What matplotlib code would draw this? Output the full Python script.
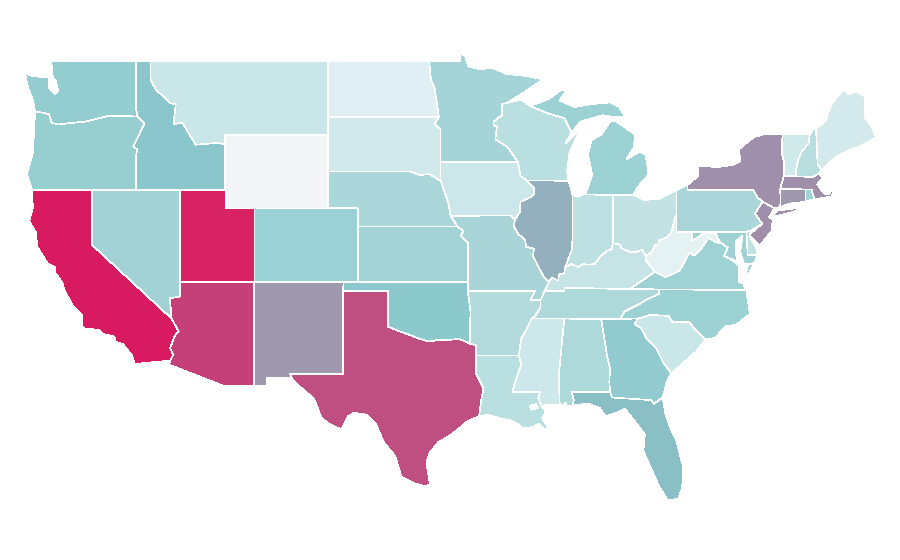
import matplotlib
matplotlib.use("Agg")
import matplotlib.pyplot as plt
from matplotlib.patches import Polygon

# shared borders, (lon, lat)
wa_or = [(-123.85, 46.25), (-123.4, 46.2), (-122.9, 46.1), (-122.75, 45.65), (-122.3, 45.55), (-121.2, 45.65),
         (-120.5, 45.7), (-119.3, 45.93), (-118.98, 46.0), (-116.92, 45.99)]
or_id = [(-116.92, 45.99), (-116.47, 45.6), (-116.85, 44.95), (-117.22, 44.35), (-116.95, 44.2), (-117.03, 43.8),
         (-117.03, 42.0)]
id_mt = [(-116.05, 49.0), (-116.05, 48.0), (-115.7, 47.45), (-114.7, 46.7), (-114.35, 46.65), (-114.5, 45.56),
         (-113.9, 45.65), (-113.45, 45.05), (-113.0, 44.45), (-111.5, 44.55), (-111.05, 44.48)]
ca_az = [(-114.63, 35.0), (-114.14, 34.3), (-114.43, 34.05), (-114.72, 33.4), (-114.52, 33.03), (-114.72, 32.72)]
red_river = [(-100.0, 34.56), (-99.2, 34.3), (-98.5, 34.1), (-97.9, 33.9), (-97.2, 33.75), (-96.6, 33.85),
             (-95.8, 33.85), (-95.2, 33.9), (-94.48, 33.64)]
tx_la = [(-94.04, 33.0), (-94.04, 31.99), (-93.55, 31.2), (-93.7, 30.6), (-93.75, 30.3), (-93.85, 29.7)]
ne_sd = [(-96.45, 42.49), (-97.2, 42.85), (-97.9, 42.8), (-98.5, 43.0), (-104.05, 43.0)]
ne_ia = [(-96.45, 42.49), (-96.1, 41.7), (-95.9, 41.2), (-95.77, 40.58)]
ks_mo = [(-95.3, 40.0), (-94.9, 39.75), (-95.1, 39.5), (-94.6, 39.1), (-94.62, 37.0)]
nd_mn = [(-97.23, 49.0), (-97.1, 48.0), (-96.85, 47.5), (-96.56, 45.94)]
sd_mn = [(-96.56, 45.94), (-96.85, 45.6), (-96.45, 45.3), (-96.45, 43.5)]
mn_wi = [(-92.02, 46.71), (-92.29, 46.66), (-92.29, 46.07), (-92.87, 45.7), (-92.88, 45.57), (-92.65, 45.4),
         (-92.75, 44.75), (-91.9, 44.3), (-91.22, 43.5)]
wi_ia = [(-91.22, 43.5), (-91.06, 42.75), (-90.64, 42.51)]
il_ia = [(-90.64, 42.51), (-90.15, 42.1), (-90.14, 41.8), (-90.34, 41.6), (-91.05, 41.35), (-91.1, 40.8),
         (-91.42, 40.38)]
il_mo = [(-91.42, 40.38), (-91.5, 40.0), (-91.2, 39.6), (-90.73, 39.25), (-90.67, 38.9), (-90.15, 38.8),
         (-90.2, 38.4), (-89.9, 37.9), (-89.5, 37.3), (-89.13, 36.98)]
ar_tn = [(-89.7, 36.0), (-89.7, 35.6), (-90.1, 35.1), (-90.3, 35.0)]
ar_ms = [(-90.3, 35.0), (-90.6, 34.5), (-91.0, 33.9), (-91.17, 33.0)]
la_ms = [(-91.17, 33.0), (-91.0, 32.5), (-91.4, 31.6), (-91.6, 31.0), (-89.73, 31.0), (-89.85, 30.67), (-89.6, 30.18)]
wv_oh = [(-80.52, 40.64), (-80.63, 40.39), (-80.73, 40.08), (-80.87, 39.68), (-81.23, 39.39), (-81.68, 39.27),
         (-81.75, 39.0), (-81.95, 38.99), (-82.19, 38.6), (-82.59, 38.42)]
oh_ky = [(-82.59, 38.42), (-82.85, 38.74), (-83.29, 38.6), (-83.67, 38.63), (-84.23, 38.82), (-84.32, 39.02),
         (-84.82, 39.1)]
in_ky = [(-84.82, 39.1), (-84.88, 38.79), (-85.17, 38.69), (-85.43, 38.53), (-85.75, 38.27), (-86.05, 37.96),
         (-86.52, 37.93), (-86.82, 37.98), (-87.13, 37.79), (-87.6, 37.97), (-88.03, 37.8)]
il_ky = [(-88.03, 37.8), (-88.09, 37.47), (-88.47, 37.4), (-88.48, 37.07), (-88.93, 37.22), (-89.13, 36.98)]
il_in = [(-87.53, 41.72), (-87.53, 39.35), (-87.6, 38.7), (-88.03, 37.8)]
ky_wv = [(-82.59, 38.42), (-82.6, 38.17), (-81.97, 37.54)]
va_wv = [(-81.97, 37.54), (-81.25, 37.25), (-80.3, 37.6), (-79.65, 38.58), (-79.3, 38.42), (-78.87, 38.77),
         (-78.35, 39.4), (-77.83, 39.13)]
potomac = [(-77.05, 38.85), (-77.5, 39.12), (-77.72, 39.32), (-77.83, 39.6), (-78.2, 39.68), (-78.75, 39.6),
           (-79.0, 39.45), (-79.48, 39.2)]
sc_ga = [(-83.1, 35.0), (-83.35, 34.7), (-82.9, 34.48), (-82.55, 33.95), (-81.9, 33.4), (-81.4, 32.6), (-80.87, 32.03)]
sc_nc = [(-83.1, 35.0), (-82.3, 35.2), (-81.05, 35.15), (-80.8, 34.82), (-79.67, 34.8), (-78.55, 33.86)]
tn_nc = [(-84.32, 35.0), (-84.0, 35.4), (-83.1, 35.75), (-82.6, 36.0), (-81.7, 36.35), (-81.68, 36.59)]
ga_al = [(-85.6, 34.98), (-85.18, 32.87), (-85.0, 32.3), (-85.05, 31.55), (-85.0, 31.0)]
fl_ga = [(-85.0, 31.0), (-84.86, 30.71), (-82.2, 30.57), (-82.05, 30.36), (-81.45, 30.71)]
pa_ny = [(-79.76, 42.27), (-79.76, 42.0), (-75.35, 42.0), (-75.05, 41.6), (-74.7, 41.36)]
pa_nj = [(-74.7, 41.36), (-75.2, 40.7), (-74.72, 40.15), (-75.45, 39.8)]
ny_ct = [(-73.65, 41.0), (-73.48, 41.21), (-73.5, 42.05)]
ny_vt = [(-73.26, 42.75), (-73.27, 43.6), (-73.4, 44.0), (-73.35, 45.0)]
vt_nh = [(-71.5, 45.0), (-71.6, 44.5), (-72.05, 44.1), (-72.3, 43.6), (-72.45, 43.0), (-72.46, 42.73)]
nh_me = [(-71.08, 45.3), (-70.98, 43.4), (-70.7, 43.07)]
ma_nh = [(-72.46, 42.73), (-71.3, 42.7), (-70.9, 42.88)]


def rev(chain):
    return chain[::-1]


# state outlines
washington = [(-124.55, 48.35), (-124.0, 48.17), (-123.3, 48.13), (-122.95, 48.1), (-122.9, 47.5), (-122.5, 47.2),
              (-122.3, 47.4), (-122.45, 47.9), (-122.65, 48.13), (-122.76, 49.0), (-117.03, 49.0),
              (-117.04, 46.42)] + rev(wa_or) + [(-124.0, 46.9), (-124.3, 47.5)]
oregon = wa_or + or_id + [(-124.05, 42.0), (-124.4, 42.84), (-124.0, 44.0)]
california = [(-124.05, 42.0), (-120.0, 42.0), (-120.0, 39.0)] + ca_az + \
             [(-117.12, 32.53), (-117.3, 33.0), (-117.9, 33.6), (-118.4, 33.75), (-118.5, 34.03), (-119.2, 34.15),
              (-119.6, 34.4), (-120.47, 34.45), (-120.65, 34.6), (-120.65, 35.15), (-121.3, 35.7), (-121.9, 36.6),
              (-122.0, 36.96), (-122.5, 37.5), (-122.5, 37.8), (-123.0, 38.0), (-123.7, 38.9), (-123.8, 39.7),
              (-124.25, 40.3), (-124.0, 41.0)]
nevada = [(-120.0, 42.0), (-114.05, 42.0), (-114.05, 36.2), (-114.74, 36.1), (-114.63, 35.0), (-120.0, 39.0)]
idaho = [(-117.03, 49.0)] + id_mt + [(-111.05, 42.0), (-114.05, 42.0)] + rev(or_id) + [(-117.04, 46.42)]
montana = [(-104.05, 49.0), (-104.05, 45.0), (-111.05, 45.0)] + rev(id_mt)
wyoming = [(-111.05, 45.0), (-104.05, 45.0), (-104.05, 41.0), (-111.05, 41.0)]
utah = [(-114.05, 42.0), (-111.05, 42.0), (-111.05, 41.0), (-109.05, 41.0), (-109.05, 37.0), (-114.05, 37.0)]
arizona = [(-114.05, 37.0), (-109.05, 37.0), (-109.05, 31.33), (-111.07, 31.33), (-114.81, 32.5)] + rev(ca_az) + \
          [(-114.74, 36.1), (-114.05, 36.2)]
colorado = [(-109.05, 41.0), (-102.05, 41.0), (-102.05, 37.0), (-109.05, 37.0)]
new_mexico = [(-109.05, 37.0), (-103.0, 37.0), (-103.04, 36.5), (-103.05, 32.0), (-106.62, 32.0), (-106.53, 31.78),
              (-108.2, 31.78), (-108.2, 31.33), (-109.05, 31.33)]
texas = [(-103.04, 36.5), (-100.0, 36.5)] + red_river + [(-94.04, 33.55)] + tx_la + \
        [(-94.7, 29.4), (-95.1, 29.1), (-95.9, 28.6), (-96.6, 28.3), (-97.2, 27.7), (-97.4, 27.2), (-97.3, 26.6),
         (-97.15, 25.97), (-97.6, 25.9), (-98.2, 26.05), (-99.1, 26.4), (-99.5, 27.5), (-100.3, 28.3), (-100.8, 29.25),
         (-101.4, 29.77), (-102.3, 29.88), (-102.7, 29.7), (-103.15, 28.97), (-104.0, 29.3), (-104.5, 29.6),
         (-105.0, 30.65), (-106.2, 31.47), (-106.53, 31.78), (-106.62, 32.0), (-103.05, 32.0)]
oklahoma = [(-103.0, 37.0), (-94.62, 37.0), (-94.62, 36.5), (-94.43, 35.4)] + rev(red_river) + \
           [(-100.0, 36.5), (-103.04, 36.5)]
kansas = [(-102.05, 40.0)] + ks_mo + [(-102.05, 37.0)]
nebraska = [(-104.05, 43.0)] + rev(ne_sd) + ne_ia[1:] + [(-95.3, 40.0), (-102.05, 40.0), (-102.05, 41.0),
                                                          (-104.05, 41.0)]
south_dakota = [(-104.05, 45.94)] + sd_mn + ne_sd
north_dakota = [(-104.05, 49.0)] + nd_mn + [(-104.05, 45.94)]
minnesota = [(-95.15, 49.0), (-95.15, 49.38), (-94.8, 49.3), (-94.6, 48.72), (-93.8, 48.55), (-92.95, 48.62),
             (-92.0, 48.3), (-90.8, 48.2), (-89.5, 48.0), (-90.8, 47.3)] + mn_wi + rev(sd_mn) + rev(nd_mn)
iowa = [(-96.45, 43.5)] + wi_ia + il_ia + [(-91.73, 40.61)] + rev(ne_ia)
missouri = [(-95.77, 40.58), (-91.73, 40.61)] + il_mo + [(-89.42, 36.5), (-89.7, 36.0), (-90.37, 36.0), (-90.08, 36.5),
                                                         (-94.62, 36.5)] + rev(ks_mo)
arkansas = [(-94.62, 36.5), (-90.08, 36.5), (-90.37, 36.0)] + ar_tn + ar_ms + \
           [(-94.04, 33.0), (-94.04, 33.55), (-94.48, 33.64), (-94.43, 35.4)]
louisiana = la_ms + [(-89.4, 30.05), (-89.4, 29.8), (-89.6, 29.6), (-89.15, 29.05), (-89.4, 28.95), (-89.8, 29.3),
                     (-90.2, 29.1), (-90.9, 29.05), (-91.3, 29.3), (-91.8, 29.5), (-92.3, 29.55), (-93.2, 29.77)] + \
            rev(tx_la)
lake_pontchartrain = [(-90.45, 30.25), (-90.0, 30.35), (-89.85, 30.15), (-90.3, 30.05)]
mississippi = ar_ms[:-1] + la_ms + [(-89.3, 30.33), (-88.4, 30.33), (-88.47, 31.9), (-88.1, 34.9), (-88.2, 35.0)]
alabama = [(-88.2, 35.0)] + ga_al + [(-87.6, 31.0), (-87.45, 30.6), (-87.52, 30.28), (-87.95, 30.25), (-88.0, 30.45),
                                     (-88.1, 30.3), (-88.4, 30.33), (-88.47, 31.9), (-88.1, 34.9)]
georgia = [(-85.6, 34.98)] + sc_ga + [(-81.15, 31.6)] + rev(fl_ga) + rev(ga_al)[1:-1]
florida = [(-87.6, 31.0)] + fl_ga + [(-81.25, 29.8), (-80.9, 29.0), (-80.55, 28.45), (-80.05, 26.9), (-80.13, 25.8),
                                     (-80.4, 25.2), (-81.1, 25.13), (-81.7, 25.9), (-82.2, 26.8), (-82.75, 27.8),
                                     (-82.65, 28.7), (-83.4, 29.5), (-84.0, 30.1), (-84.35, 29.95), (-85.3, 29.68),
                                     (-85.7, 30.15), (-86.5, 30.38), (-87.52, 30.28), (-87.45, 30.6)]
south_carolina = sc_nc + [(-79.2, 33.2), (-79.9, 32.7)] + rev(sc_ga)
north_carolina = [(-84.32, 35.0)] + sc_nc + [(-77.9, 33.95), (-77.2, 34.6), (-76.5, 34.65), (-75.55, 35.25),
                                             (-75.8, 36.55)] + rev(tn_nc)
tennessee = [(-90.3, 35.0)] + tn_nc + [(-83.68, 36.6), (-86.5, 36.65), (-88.07, 36.68), (-88.07, 36.5),
                                       (-89.42, 36.5)] + ar_tn[:-1]
kentucky = rev(il_ky) + rev(in_ky)[1:] + rev(oh_ky)[1:] + ky_wv[1:] + \
           [(-83.68, 36.6), (-86.5, 36.65), (-88.07, 36.68), (-88.07, 36.5), (-89.42, 36.5)]
virginia = [(-83.68, 36.6), (-75.8, 36.55), (-76.0, 36.9), (-76.3, 37.0), (-76.3, 37.5), (-76.3, 37.9), (-77.0, 38.3),
            (-77.3, 38.4), (-77.05, 38.85), (-77.5, 39.12), (-77.83, 39.13)] + rev(va_wv)
virginia_shore = [(-75.95, 37.15), (-75.65, 37.95), (-75.25, 38.03), (-75.6, 37.5)]
west_virginia = [(-80.52, 40.64), (-80.52, 39.72), (-79.48, 39.72)] + rev(potomac)[:-2] + [(-77.83, 39.13)] + \
                va_wv[::-1][1:] + rev(ky_wv)[1:-1] + rev(wv_oh)
maryland = [(-79.48, 39.72), (-75.79, 39.72), (-75.7, 38.46), (-75.05, 38.45), (-75.25, 38.03), (-75.65, 37.95),
            (-75.95, 38.0), (-76.2, 38.6), (-76.15, 39.0), (-76.05, 39.5), (-76.5, 39.2), (-76.5, 38.5), (-76.35, 38.1),
            (-77.0, 38.3), (-77.3, 38.4)] + potomac
delaware = [(-75.79, 39.72), (-75.45, 39.8), (-75.55, 39.45), (-75.1, 38.8), (-75.05, 38.45), (-75.7, 38.46)]
new_jersey = [(-75.55, 39.6)] + rev(pa_nj)[1:] + [(-73.9, 41.0), (-74.25, 40.5), (-74.0, 40.4), (-74.1, 39.75),
                                                  (-74.9, 38.95), (-75.55, 39.5)]
pennsylvania = [(-80.52, 41.98)] + pa_ny + pa_nj + [(-75.79, 39.72), (-80.52, 39.72)]
new_york = pa_ny + [(-73.9, 41.0)] + ny_ct + ny_vt + \
           [(-74.7, 45.0), (-75.3, 44.85), (-76.3, 44.2), (-76.2, 43.55), (-76.7, 43.35), (-77.6, 43.25),
            (-79.05, 43.27), (-79.05, 42.75)]
long_island = [(-74.0, 40.6), (-73.7, 40.87), (-72.6, 40.98), (-72.0, 41.05), (-72.6, 40.8), (-73.6, 40.6)]
connecticut = ny_ct + [(-71.8, 42.02), (-71.8, 41.35), (-72.9, 41.25)]
rhode_island = [(-71.8, 42.02), (-71.38, 42.02), (-71.2, 41.5), (-71.8, 41.35)]
massachusetts = [(-73.5, 42.05), (-73.26, 42.75)] + ma_nh + \
                [(-70.6, 42.65), (-71.0, 42.3), (-70.55, 41.8), (-70.2, 41.75), (-70.0, 42.05), (-70.25, 42.07),
                 (-69.95, 41.95), (-70.0, 41.65), (-70.65, 41.55), (-71.2, 41.5), (-71.38, 42.02), (-71.8, 42.02)]
vermont = [(-73.35, 45.0)] + vt_nh + [(-73.26, 42.75), (-73.27, 43.6), (-73.4, 44.0)]
new_hampshire = [(-71.5, 45.0), (-71.3, 45.3)] + nh_me + [(-70.9, 42.88), (-71.3, 42.7)] + rev(vt_nh)[:-1]
maine = nh_me[:1] + [(-70.4, 45.8), (-70.25, 46.2), (-70.0, 46.7), (-69.23, 47.46), (-68.9, 47.18), (-68.3, 47.35),
                     (-67.8, 47.07), (-67.78, 45.9), (-67.45, 45.6), (-67.0, 44.85), (-68.0, 44.4), (-69.0, 44.1),
                     (-69.8, 43.75)] + rev(nh_me)[:-1]
michigan_lower = [(-86.82, 41.76), (-84.8, 41.7), (-83.45, 41.73), (-83.15, 42.1), (-82.9, 42.4), (-82.5, 42.7),
                  (-82.42, 43.0), (-82.6, 43.9), (-83.0, 44.07), (-83.9, 43.65), (-83.4, 44.3), (-83.3, 45.0),
                  (-84.7, 45.78), (-85.0, 45.7), (-85.6, 45.0), (-86.25, 44.7), (-86.5, 43.9), (-86.2, 42.8),
                  (-86.6, 41.9)]
michigan_upper = [(-90.4, 46.55), (-89.1, 46.95), (-88.4, 47.38), (-87.9, 47.47), (-88.4, 46.85), (-87.4, 46.5),
                  (-86.1, 46.67), (-85.0, 46.75), (-84.4, 46.5), (-84.0, 46.0), (-84.75, 45.95), (-85.5, 46.05),
                  (-86.4, 45.85), (-87.0, 45.7), (-87.6, 45.1), (-88.1, 45.9), (-89.1, 46.13)]
wisconsin = [(-92.02, 46.71), (-91.0, 46.9), (-90.4, 46.55), (-89.1, 46.13), (-88.1, 45.9), (-87.6, 45.1),
             (-88.0, 44.55), (-87.05, 45.25), (-87.75, 44.0), (-87.9, 43.0), (-87.8, 42.49)] + rev(wi_ia) + rev(mn_wi)
illinois = [(-90.64, 42.51), (-87.8, 42.49)] + il_in + il_ky[1:] + rev(il_mo)[1:] + rev(il_ia)[1:-1]
indiana = [(-87.53, 41.72), (-87.2, 41.62), (-86.82, 41.76), (-84.8, 41.7)] + in_ky + rev(il_in)[1:-1]
ohio = [(-84.8, 41.7), (-83.45, 41.73), (-82.7, 41.45), (-81.7, 41.5), (-80.52, 41.98)] + wv_oh + oh_ky[1:]

# fill colour
states = [
    (washington, "#93cdd0"), (oregon, "#97cfd1"), (california, "#d81b60"), (nevada, "#a2d2d6"), (idaho, "#8ac6cc"),
    (montana, "#c9e7e9"), (wyoming, "#f3f4f6"), (utah, "#d72364"), (arizona, "#c53f78"), (colorado, "#9ad1d4"),
    (new_mexico, "#9e99ae"), (texas, "#bf4f80"), (oklahoma, "#8cc9cc"), (kansas, "#a3d3d6"), (nebraska, "#acd7da"),
    (south_dakota, "#d2e9ec"), (north_dakota, "#dfeff3"), (minnesota, "#a5d4d8"), (iowa, "#cbe7ea"),
    (missouri, "#a9d5d9"), (arkansas, "#b3dbdd"), (louisiana, "#b9dfe1"), (lake_pontchartrain, "#ffffff"),
    (mississippi, "#cde8ea"), (alabama, "#aed9db"), (georgia, "#91cbcf"), (florida, "#8bbfc6"),
    (south_carolina, "#c9e6e8"), (north_carolina, "#9dd2d5"), (tennessee, "#aed9db"), (kentucky, "#c6e4e6"),
    (virginia, "#9ed2d4"), (virginia_shore, "#9ed2d4"), (west_virginia, "#e4f2f4"), (maryland, "#a0d2d5"),
    (delaware, "#bfe1e3"), (new_jersey, "#a08fab"), (pennsylvania, "#aad6da"), (new_york, "#a08fab"),
    (long_island, "#a08fab"), (connecticut, "#9e99ae"), (rhode_island, "#a3d4d6"), (massachusetts, "#a08fab"),
    (vermont, "#d0e9eb"), (new_hampshire, "#b8dee0"), (maine, "#d3e9ec"), (michigan_lower, "#9dd2d5"),
    (michigan_upper, "#9dd2d5"), (wisconsin, "#b9dfe1"), (illinois, "#94afbe"), (indiana, "#bde0e2"),
    (ohio, "#c2e2e4"),
]


def main():
    fig = plt.figure(figsize=(9, 5.6), dpi=100)
    ax = fig.add_axes([0, 0, 1, 1])

    # the reference has hard pixel edges, so no antialiasing on the fills
    for outline, colour in states:
        ax.add_patch(Polygon(outline, closed=True, facecolor=colour, edgecolor="white", linewidth=0.5,
                             antialiased=False))

    # plain lon/lat, the reference is not really projected
    ax.set_xlim(-126.22, -65.41)
    ax.set_ylim(21.88, 52.315)
    ax.axis("off")

    fig.savefig("out.png", dpi=100)


if __name__ == "__main__":
    main()
